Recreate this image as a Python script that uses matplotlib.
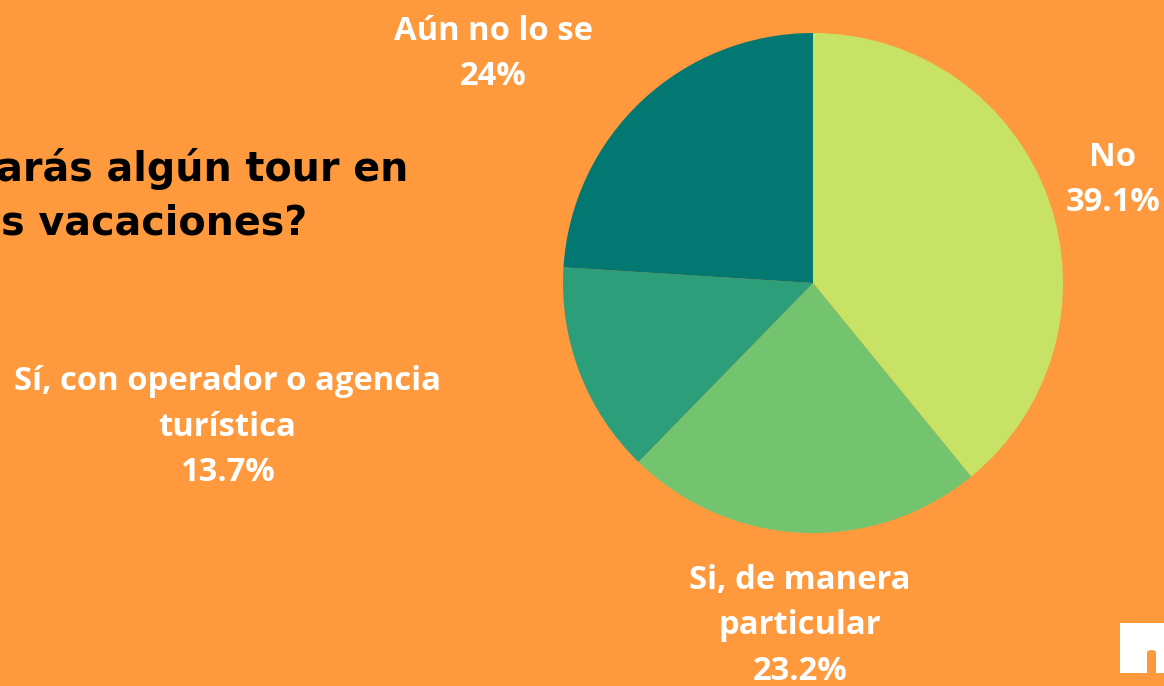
import matplotlib
matplotlib.use("Agg")
import matplotlib.pyplot as plt
from matplotlib.patches import FancyBboxPatch

categories = ["No", "Si, de manera\nparticular", "Sí, con operador o agencia\nturística", "Aún no lo se"]
values = [39.1, 23.2, 13.7, 24.0]
value_labels = ["39.1%", "23.2%", "13.7%", "24%"]
colors = ["#C8E265", "#74C46F", "#2C9F7A", "#037872"]
title_lines = ["¿Harás algún tour en", "tus vacaciones?"]

BG = "#FE9A3D"
W, H = 1164, 686
fig = plt.figure(figsize=(W / 100, H / 100), dpi=100, facecolor=BG)

# pie axes: center (813,283) px, radius 250 px
cx, cy, r = 813, 283, 250
ax = fig.add_axes([(cx - r) / W, (H - cy - r) / H, 2 * r / W, 2 * r / H])
ax.set_facecolor(BG)
ax.pie(values, colors=colors, startangle=90, counterclock=False, radius=1,
       wedgeprops=dict(linewidth=0))
ax.set_xlim(-1, 1)
ax.set_ylim(-1, 1)
ax.set_aspect("equal")
ax.axis("off")

def px(x, y):
    return ((x - cx) / r, (cy - y) / r)

label_pos = [(1113, 180), (800, 626), (227, 427), (493, 54)]
lab_font = dict(family="Open Sans", fontweight="bold", color="white", fontsize=23.6,
                ha="center", va="center", linespacing=1.5)
for cat, vl, (x, y) in zip(categories, value_labels, label_pos):
    dx, dy = px(x, y)
    ax.text(dx, dy, f"{cat}\n{vl}", clip_on=False, **lab_font)

# title (partly cut off at left edge, as in the reference)
title_font = dict(family="DejaVu Sans", fontweight="bold", color="black", fontsize=28.5,
                  ha="right", va="center")
fig.text(408 / W, 1 - 169 / H, title_lines[0], **title_font)
fig.text(307 / W, 1 - 224 / H, title_lines[1], **title_font)

# logo mark bottom right (partly cut off)
def fpx(x, y):
    return (x / W, 1 - y / H)

logo = FancyBboxPatch(fpx(1120, 673), 60 / W, 50 / H,
                      boxstyle="round,pad=0,rounding_size=0.012",
                      transform=fig.transFigure, facecolor="white", edgecolor="none")
fig.patches.append(logo)
stem = FancyBboxPatch(fpx(1120, 673), 20 / W, 50 / H, boxstyle="square,pad=0",
                      transform=fig.transFigure, facecolor="white", edgecolor="none")
fig.patches.append(stem)
counter = FancyBboxPatch(fpx(1147, 680), 9 / W, 30 / H,
                         boxstyle="round,pad=0,rounding_size=0.004",
                         transform=fig.transFigure, facecolor=BG, edgecolor="none")
fig.patches.append(counter)

fig.savefig("out.png", dpi=100, facecolor=BG)
